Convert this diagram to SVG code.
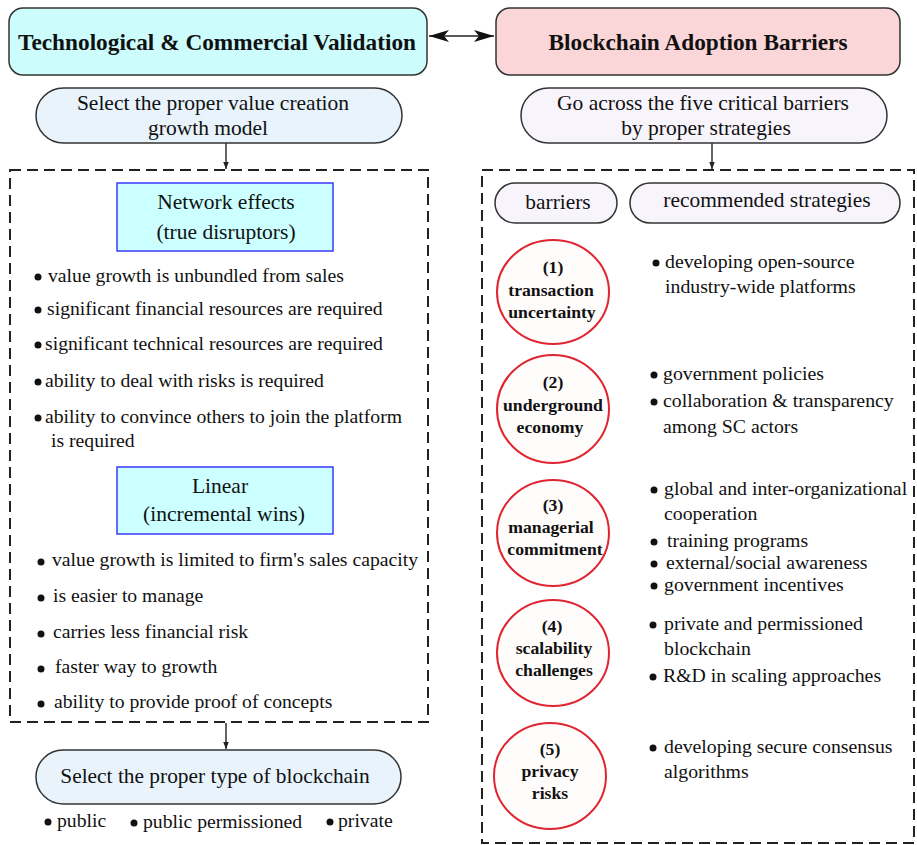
<svg xmlns="http://www.w3.org/2000/svg" width="917" height="845" viewBox="0 0 917 845">
<defs>
<style>
text{font-family:"Liberation Serif","DejaVu Serif",serif;fill:#111}
.title{font-size:23.3px;font-weight:bold;text-anchor:middle}
.pt{font-size:21.5px;text-anchor:middle}
.lb{font-size:19.7px}
.rb{font-size:19.8px}
.hb{font-size:21.4px;text-anchor:middle}
.ct{font-size:17.7px;font-weight:bold;text-anchor:middle}
.pill{stroke:#333;stroke-width:1.5}
.hdr{fill:#ccffff;stroke:#3a3aff;stroke-width:1.5}
.dash{fill:none;stroke:#222;stroke-width:2;stroke-dasharray:11 6}
.circ{fill:#fffcfc;stroke:#e02530;stroke-width:2}
.bul{fill:#111}
.conn{stroke:#222;stroke-width:1.4;fill:none}
</style>
<marker id="ah" viewBox="0 0 10 10" refX="10" refY="5" markerWidth="7" markerHeight="7" orient="auto-start-reverse" markerUnits="userSpaceOnUse">
<path d="M0,1 L10,5 L0,9 z" fill="#222"/>
</marker>
<marker id="big" viewBox="0 0 20 12" refX="20" refY="6" markerWidth="20" markerHeight="12" orient="auto-start-reverse" markerUnits="userSpaceOnUse">
<path d="M0,0 L20,6 L0,12 L5,6 z" fill="#111"/>
</marker>
</defs>
<rect width="917" height="845" fill="#ffffff"/>

<g id="connectors">
<line class="conn" x1="429" y1="36" x2="494" y2="36" stroke-width="1.8" marker-start="url(#big)" marker-end="url(#big)"/>
<line class="conn" x1="226" y1="143" x2="226" y2="169" marker-end="url(#ah)"/>
<line class="conn" x1="712" y1="143" x2="712" y2="169" marker-end="url(#ah)"/>
<line class="conn" x1="226" y1="723" x2="226" y2="749" marker-end="url(#ah)"/>
</g>

<g id="tech-validation">
<rect x="9" y="8" width="418" height="67" rx="14" fill="#ccfcfc" class="pill"/>
<text class="title" x="217" y="50">Technological &amp; Commercial Validation</text>
</g>

<g id="adoption-barriers">
<rect x="496" y="8" width="404" height="67" rx="14" fill="#fad6d8" class="pill"/>
<text class="title" x="698" y="50">Blockchain Adoption Barriers</text>
</g>

<g id="select-growth-model">
<rect x="36" y="88" width="366" height="55" rx="27.5" fill="#e8f3fb" class="pill"/>
<text class="pt" x="213" y="110">Select the proper value creation</text>
<text class="pt" x="208" y="135">growth model</text>
</g>

<g id="go-across">
<rect x="521" y="88" width="366" height="55" rx="27.5" fill="#f8f4fc" class="pill"/>
<text class="pt" x="703" y="110">Go across the five critical barriers</text>
<text class="pt" x="706" y="135">by proper strategies</text>
</g>

<g id="growth-models">
<rect class="dash" x="10" y="170" width="418" height="552"/>
<g id="network-effects">
<rect class="hdr" x="117" y="183" width="216" height="68"/>
<text class="pt" x="226" y="209">Network effects</text>
<text class="pt" x="226" y="239">(true disruptors)</text>
</g>
<circle class="bul" cx="38" cy="277" r="3.5"/>
<text class="lb" x="48" y="282">value growth is unbundled from sales</text>
<circle class="bul" cx="38" cy="310" r="3.5"/>
<text class="lb" x="47" y="315">significant financial resources are required</text>
<circle class="bul" cx="38" cy="345" r="3.5"/>
<text class="lb" x="45" y="350">significant technical resources are required</text>
<circle class="bul" cx="38" cy="382" r="3.5"/>
<text class="lb" x="45" y="387">ability to deal with risks is required</text>
<circle class="bul" cx="38" cy="418" r="3.5"/>
<text class="lb" x="45" y="423">ability to convince others to join the platform</text>
<text class="lb" x="51" y="447">is required</text>
<g id="linear">
<rect class="hdr" x="117" y="467" width="216" height="67"/>
<text class="pt" x="220" y="493">Linear</text>
<text class="pt" x="224" y="521">(incremental wins)</text>
</g>
<circle class="bul" cx="41" cy="562" r="3.5"/>
<text class="lb" x="52" y="566">value growth is limited to firm's sales capacity</text>
<circle class="bul" cx="41" cy="598" r="3.5"/>
<text class="lb" x="53" y="602">is easier to manage</text>
<circle class="bul" cx="41" cy="634" r="3.5"/>
<text class="lb" x="53" y="638">carries less financial risk</text>
<circle class="bul" cx="41" cy="669" r="3.5"/>
<text class="lb" x="55" y="673">faster way to growth</text>
<circle class="bul" cx="41" cy="704" r="3.5"/>
<text class="lb" x="54" y="708">ability to provide proof of concepts</text>
</g>

<g id="select-blockchain-type">
<rect x="36" y="750" width="365" height="54" rx="27" fill="#e8f3fb" class="pill"/>
<text class="hb" x="215" y="783">Select the proper type of blockchain</text>
<circle class="bul" cx="48" cy="822" r="3.5"/>
<text class="lb" x="57" y="827">public</text>
<circle class="bul" cx="134" cy="823" r="3.5"/>
<text class="lb" x="143" y="828">public permissioned</text>
<circle class="bul" cx="330" cy="822" r="3.5"/>
<text class="lb" x="338" y="827">private</text>
</g>

<g id="barriers-strategies">
<rect class="dash" x="482" y="170" width="432" height="673"/>
<g id="barriers-header">
<rect x="495" y="183" width="122" height="40" rx="20" fill="#f8f4fc" class="pill"/>
<text class="hb" x="558" y="209">barriers</text>
</g>
<g id="strategies-header">
<rect x="630" y="183" width="270" height="40" rx="20" fill="#f8f4fc" class="pill"/>
<text class="hb" x="767" y="207">recommended strategies</text>
</g>

<g id="barrier-1">
<ellipse class="circ" cx="553" cy="292" rx="56" ry="52"/>
<text class="ct" x="553" y="273">(1)</text>
<text class="ct" x="551" y="296">transaction</text>
<text class="ct" x="552" y="318">uncertainty</text>
</g>
<g id="strategy-1">
<circle class="bul" cx="656" cy="263" r="3.5"/>
<text class="rb" x="665" y="268">developing open-source</text>
<text class="rb" x="665" y="293">industry-wide platforms</text>
</g>

<g id="barrier-2">
<ellipse class="circ" cx="553" cy="409" rx="56" ry="54"/>
<text class="ct" x="553" y="388">(2)</text>
<text class="ct" x="553" y="411">underground</text>
<text class="ct" x="550" y="433">economy</text>
</g>
<g id="strategy-2">
<circle class="bul" cx="654" cy="375" r="3.5"/>
<text class="rb" x="663" y="380">government policies</text>
<circle class="bul" cx="654" cy="402" r="3.5"/>
<text class="rb" x="663" y="407">collaboration &amp; transparency</text>
<text class="rb" x="663" y="433">among SC actors</text>
</g>

<g id="barrier-3">
<ellipse class="circ" cx="553" cy="533" rx="56" ry="53"/>
<text class="ct" x="553" y="511">(3)</text>
<text class="ct" x="551" y="533">managerial</text>
<text class="ct" x="555" y="555">commitment</text>
</g>
<g id="strategy-3">
<circle class="bul" cx="654" cy="490" r="3.5"/>
<text class="rb" x="664" y="495">global and inter-organizational</text>
<text class="rb" x="664" y="520">cooperation</text>
<circle class="bul" cx="654" cy="542" r="3.5"/>
<text class="rb" x="667" y="547">training programs</text>
<circle class="bul" cx="654" cy="564" r="3.5"/>
<text class="rb" x="666" y="569">external/social awareness</text>
<circle class="bul" cx="654" cy="586" r="3.5"/>
<text class="rb" x="664" y="591">government incentives</text>
</g>

<g id="barrier-4">
<ellipse class="circ" cx="553" cy="653" rx="56" ry="53"/>
<text class="ct" x="552" y="632">(4)</text>
<text class="ct" x="554" y="654">scalability</text>
<text class="ct" x="554" y="676">challenges</text>
</g>
<g id="strategy-4">
<circle class="bul" cx="653" cy="625" r="3.5"/>
<text class="rb" x="664" y="630">private and permissioned</text>
<text class="rb" x="664" y="655">blockchain</text>
<circle class="bul" cx="653" cy="677" r="3.5"/>
<text class="rb" x="663" y="682">R&amp;D in scaling approaches</text>
</g>

<g id="barrier-5">
<ellipse class="circ" cx="550" cy="776" rx="56" ry="53"/>
<text class="ct" x="550" y="755">(5)</text>
<text class="ct" x="550" y="777">privacy</text>
<text class="ct" x="550" y="799">risks</text>
</g>
<g id="strategy-5">
<circle class="bul" cx="653" cy="748" r="3.5"/>
<text class="rb" x="664" y="753">developing secure consensus</text>
<text class="rb" x="664" y="778">algorithms</text>
</g>
</g>
</svg>
